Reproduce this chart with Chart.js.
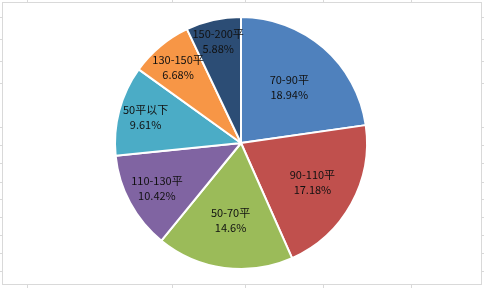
<!DOCTYPE html>
<html>
<head>
<meta charset="utf-8">
<script src="https://cdn.jsdelivr.net/npm/chart.js@4/dist/chart.umd.min.js"></script>
<style>
  html, body { margin: 0; padding: 0; background: #fff; }
  #wrap { position: relative; width: 484px; height: 288px; }
</style>
</head>
<body>
<div id="wrap"><canvas id="pie" width="484" height="288"></canvas></div>
<script>
// ------------------------
// Data
// ------------------------
const categories = ["70-90平", "90-110平", "50-70平", "110-130平", "50平以下", "130-150平", "150-200平"];
const shares = [18.94, 17.18, 14.6, 10.42, 9.61, 6.68, 5.88];
const shareLabels = ["18.94%", "17.18%", "14.6%", "10.42%", "9.61%", "6.68%", "5.88%"];

const sliceColors = ["#4F81BD", "#C0504D", "#9BBB59", "#8064A2", "#4BACC6", "#F79646", "#2C4D75"];
// how far out (fraction of radius) each label sits, like Excel's best fit
const labelRadius = [0.585, 0.648, 0.623, 0.758, 0.784, 0.78, 0.825];

// spreadsheet cell edges peeking out round the chart frame
const colEdges = [27, 172, 245, 323, 411];
const rowEdges = [17, 39, 61, 83, 127, 145, 163, 182, 199, 217, 235, 253, 271];

// ------------------------
// Plugins
// ------------------------
const frame = {
    id: "frame",
    beforeDraw(chart) {
        const ctx = chart.ctx;
        ctx.save();
        ctx.strokeStyle = "#d9d9d9";
        ctx.lineWidth = 1;
        ctx.strokeRect(2.5, 2.5, 479, 282);
        ctx.beginPath();
        colEdges.forEach(x => {
            ctx.moveTo(x + 0.5, 0); ctx.lineTo(x + 0.5, 2);
            ctx.moveTo(x + 0.5, 285); ctx.lineTo(x + 0.5, 288);
        });
        rowEdges.forEach(y => {
            ctx.moveTo(0, y + 0.5); ctx.lineTo(2, y + 0.5);
            ctx.moveTo(482, y + 0.5); ctx.lineTo(484, y + 0.5);
        });
        ctx.stroke();
        ctx.restore();
    }
};

const sliceLabels = {
    id: "sliceLabels",
    afterDatasetsDraw(chart) {
        const ctx = chart.ctx;
        const arcs = chart.getDatasetMeta(0).data;
        ctx.save();
        ctx.font = "11px 'Noto Sans CJK SC', 'Noto Sans', sans-serif";
        ctx.fillStyle = "#111";
        ctx.textAlign = "center";
        ctx.textBaseline = "middle";
        arcs.forEach((arc, i) => {
            const p = arc.getProps(["x", "y", "startAngle", "endAngle", "outerRadius"], true);
            const mid = (p.startAngle + p.endAngle) / 2;
            const r = p.outerRadius * labelRadius[i];
            const x = p.x + Math.cos(mid) * r;
            const y = p.y + Math.sin(mid) * r;
            ctx.fillText(categories[i], x, y - 7.5);
            ctx.fillText(shareLabels[i], x, y + 7.5);
        });
        ctx.restore();
    }
};

new Chart(document.getElementById("pie").getContext("2d"), {
    type: "pie",
    data: {
        labels: categories,
        datasets: [{
            data: shares,
            backgroundColor: sliceColors,
            borderColor: "#ffffff",
            borderWidth: 2
        }]
    },
    options: {
        responsive: false,
        animation: false,
        layout: { padding: { top: 16, bottom: 18, left: 0, right: 2 } },
        plugins: {
            legend: { display: false },
            tooltip: { enabled: false }
        }
    },
    plugins: [frame, sliceLabels]
});
</script>
</body>
</html>
